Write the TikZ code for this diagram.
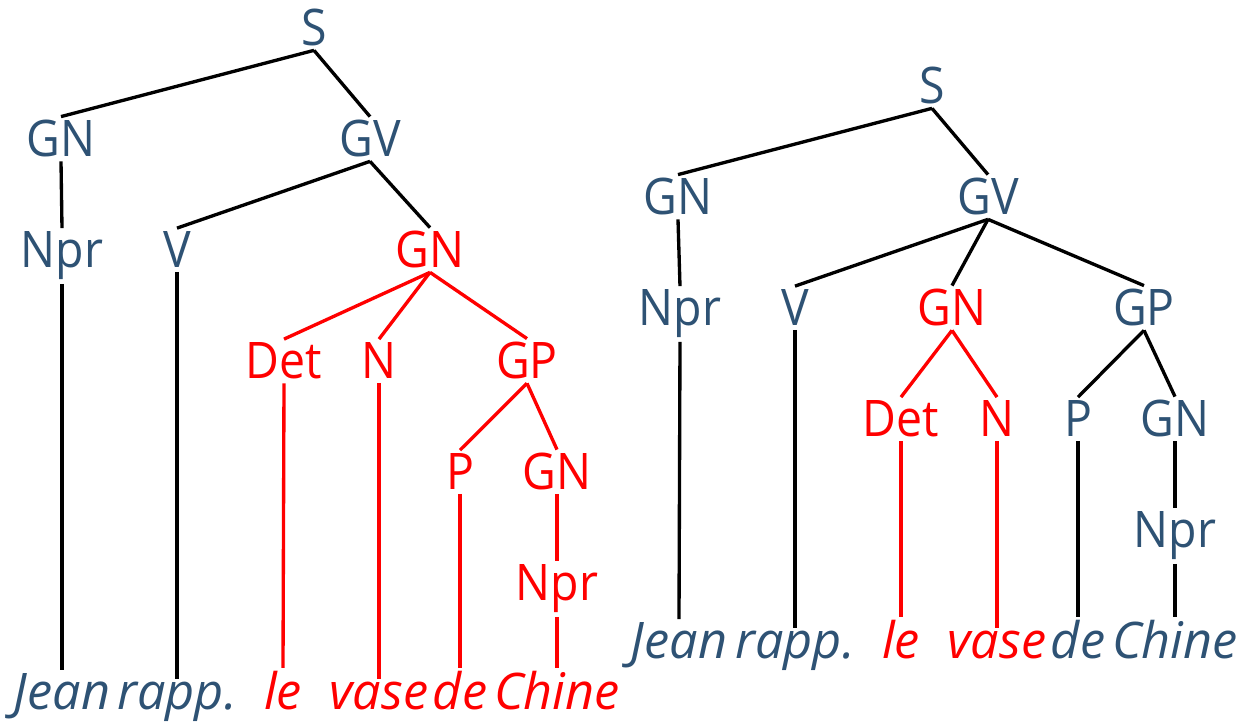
\documentclass[tikz,border=0pt]{standalone}
\usepackage{fontspec}
\setmainfont{Open Sans}[UprightFeatures={FakeStretch=0.92}]
\definecolor{slate}{HTML}{2E5274}
\definecolor{hot}{HTML}{FF0000}
\tikzset{
  cat/.style={anchor=base,inner sep=2pt,text=slate},
  hotcat/.style={cat,text=hot},
  word/.style={cat,font=\itshape},
  hotword/.style={hotcat,font=\itshape},
  branch/.style={line width=1.9pt},
}
\begin{document}
\fontsize{28.7}{34}\selectfont
\begin{tikzpicture}
  \useasboundingbox (0,0) rectangle (24.9,14.46);

  % left tree
  \foreach \name/\x/\y/\style/\txt in {
    lS/6.28/13.54/cat/S,
    lGN/1.22/11.32/cat/GN,
    lGV/7.40/11.32/cat/GV,
    lNpr/1.24/9.10/cat/Npr,
    lV/3.54/9.10/cat/V,
    lGNo/8.60/9.10/hotcat/GN,
    lDet/5.68/6.88/hotcat/Det,
    lN/7.58/6.88/hotcat/N,
    lGP/10.54/6.88/hotcat/GP,
    lP/9.20/4.66/hotcat/P,
    lGNc/11.14/4.66/hotcat/GN,
    lNprc/11.14/2.44/hotcat/Npr,
    lJean/1.24/0.26/word/Jean,
    lrapp/3.54/0.26/word/rapp.,
    lle/5.66/0.26/hotword/le,
    lvase/7.58/0.26/hotword/vase,
    lde/9.20/0.26/hotword/de,
    lChine/11.14/0.26/hotword/Chine}
    {\node[\style] (\name) at (\x,\y) {\txt};}

  \foreach \a/\b in {lS/lGN, lS/lGV, lGN/lNpr, lGV/lV, lGV/lGNo,
    lNpr/lJean, lV/lrapp}
    {\draw[branch] (\a.south) -- (\b.north);}
  \foreach \a/\b in {lGNo/lDet, lGNo/lN, lGNo/lGP, lGP/lP, lGP/lGNc,
    lGNc/lNprc, lDet/lle, lN/lvase, lP/lde, lNprc/lChine}
    {\draw[branch,hot] (\a.south) -- (\b.north);}

  % right tree
  \foreach \name/\x/\y/\style/\txt in {
    rS/18.64/12.38/cat/S,
    rGN/13.56/10.16/cat/GN,
    rGV/19.76/10.16/cat/GV,
    rNpr/13.60/7.94/cat/Npr,
    rV/15.90/7.94/cat/V,
    rGNo/19.04/7.94/hotcat/GN,
    rGP/22.88/7.94/cat/GP,
    rDet/18.02/5.72/hotcat/Det,
    rN/19.94/5.72/hotcat/N,
    rP/21.56/5.72/cat/P,
    rGNc/23.50/5.72/cat/GN,
    rNprc/23.50/3.50/cat/Npr,
    rJean/13.58/1.28/word/Jean,
    rrapp/15.90/1.28/word/rapp.,
    rle/18.02/1.28/hotword/le,
    rvase/19.94/1.28/hotword/vase,
    rde/21.56/1.28/word/de,
    rChine/23.50/1.28/word/Chine}
    {\node[\style] (\name) at (\x,\y) {\txt};}

  \foreach \a/\b in {rS/rGN, rS/rGV, rGN/rNpr, rGV/rV, rGV/rGNo, rGV/rGP,
    rNpr/rJean, rV/rrapp, rGP/rP, rGP/rGNc, rGNc/rNprc, rP/rde,
    rNprc/rChine}
    {\draw[branch] (\a.south) -- (\b.north);}
  \foreach \a/\b in {rGNo/rDet, rGNo/rN, rDet/rle, rN/rvase}
    {\draw[branch,hot] (\a.south) -- (\b.north);}
\end{tikzpicture}
\end{document}
